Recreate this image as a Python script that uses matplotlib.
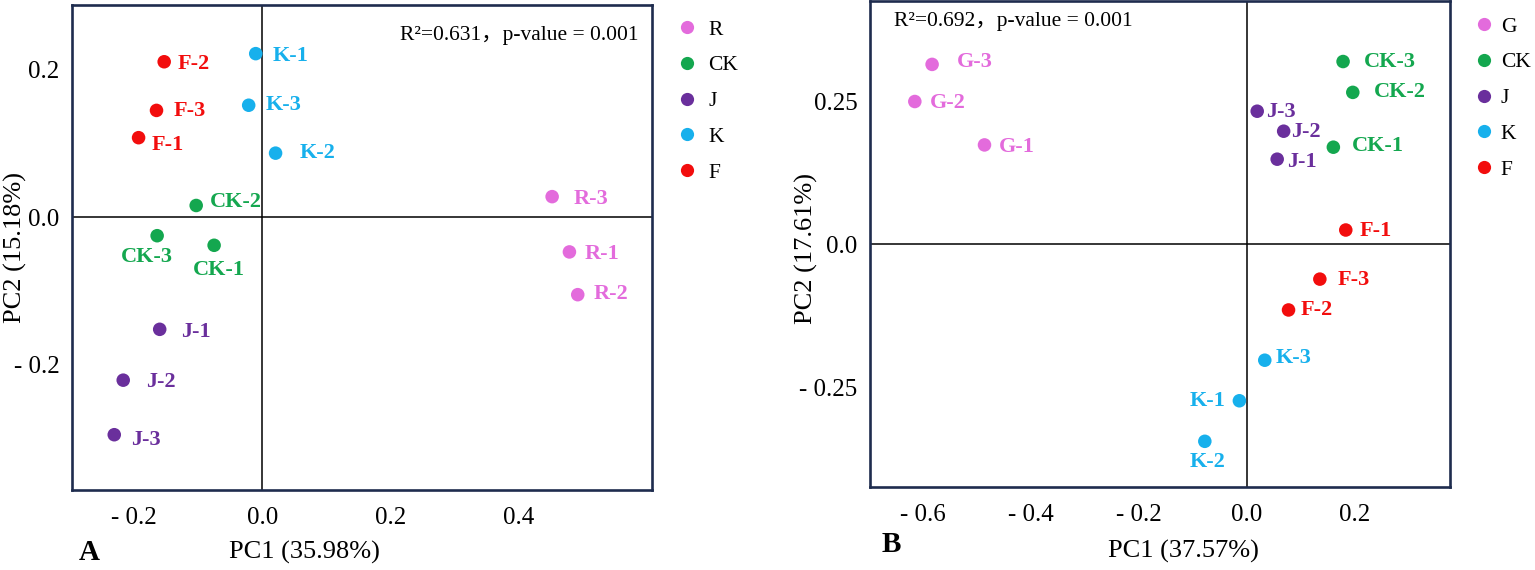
import matplotlib
matplotlib.use("Agg")
import matplotlib.pyplot as plt
from matplotlib.lines import Line2D

plt.rcParams['font.family'] = ['Liberation Serif', 'DejaVu Serif']

# ---------------- data ----------------
A_groups = ['R', 'CK', 'J', 'K', 'F']
A_samples = ['R-1', 'R-2', 'R-3', 'CK-1', 'CK-2', 'CK-3', 'J-1', 'J-2', 'J-3',
             'K-1', 'K-2', 'K-3', 'F-1', 'F-2', 'F-3']
A_pc1 = [0.480, 0.493, 0.453, -0.075, -0.103, -0.164, -0.160, -0.217, -0.231,
         -0.010, 0.021, -0.021, -0.193, -0.153, -0.165]
A_pc2 = [-0.047, -0.105, 0.028, -0.038, 0.016, -0.025, -0.152, -0.221, -0.295,
         0.222, 0.087, 0.152, 0.108, 0.211, 0.145]
A_xticks = [-0.2, 0.0, 0.2, 0.4]
A_xticklabels = ['- 0.2', '0.0', '0.2', '0.4']
A_yticks = [-0.2, 0.0, 0.2]
A_yticklabels = ['- 0.2', '0.0', '0.2']
A_xlabel = 'PC1 (35.98%)'
A_ylabel = 'PC2 (15.18%)'
A_stat = 'R²=0.631，p-value = 0.001'

B_groups = ['G', 'CK', 'J', 'K', 'F']
B_samples = ['G-1', 'G-2', 'G-3', 'CK-1', 'CK-2', 'CK-3', 'J-1', 'J-2', 'J-3',
             'K-1', 'K-2', 'K-3', 'F-1', 'F-2', 'F-3']
B_pc1 = [-0.486, -0.615, -0.583, 0.160, 0.196, 0.178, 0.056, 0.068, 0.019,
         -0.014, -0.078, 0.033, 0.183, 0.077, 0.135]
B_pc2 = [0.174, 0.250, 0.315, 0.170, 0.266, 0.320, 0.149, 0.198, 0.233,
         -0.274, -0.345, -0.203, 0.025, -0.115, -0.061]
B_xticks = [-0.6, -0.4, -0.2, 0.0, 0.2]
B_xticklabels = ['- 0.6', '- 0.4', '- 0.2', '0.0', '0.2']
B_yticks = [-0.25, 0.0, 0.25]
B_yticklabels = ['- 0.25', '0.0', '0.25']
B_xlabel = 'PC1 (37.57%)'
B_ylabel = 'PC2 (17.61%)'
B_stat = 'R²=0.692，p-value = 0.001'

# ---------------- styles ----------------
COLORS = {'R': '#E36BDC', 'G': '#E36BDC', 'CK': '#14A74F', 'J': '#6A2F9C',
          'K': '#17B0EC', 'F': '#F20D0D'}
BORDER = '#1E2C4E'

# label placement: (dx px, dy px (down positive), ha)
A_label_pos = {
    'K-1': (17, 2, 'left'), 'F-2': (13, 2, 'left'), 'F-3': (17, 1, 'left'),
    'K-3': (17, 0, 'left'), 'F-1': (13, 7, 'left'), 'K-2': (24, 0, 'left'),
    'CK-2': (14, -3, 'left'), 'R-3': (21, 2, 'left'), 'CK-3': (-10, 21, 'center'),
    'CK-1': (5, 25, 'center'), 'R-1': (15, 2, 'left'), 'R-2': (16, -1, 'left'),
    'J-1': (21, 3, 'left'), 'J-2': (23, 2, 'left'), 'J-3': (17, 5, 'left'),
}
B_label_pos = {
    'G-3': (25, -2, 'left'), 'G-2': (15, 1, 'left'), 'G-1': (14, 2, 'left'),
    'CK-3': (21, 0, 'left'), 'CK-2': (21, 0, 'left'), 'CK-1': (19, -1, 'left'),
    'J-3': (9, 1, 'left'), 'J-2': (7, 1, 'left'), 'J-1': (10, 3, 'left'),
    'F-1': (14, 1, 'left'), 'F-3': (18, 1, 'left'), 'F-2': (12, 0, 'left'),
    'K-3': (11, -2, 'left'), 'K-1': (-14, 0, 'right'), 'K-2': (3, 21, 'center'),
}

fig = plt.figure(figsize=(15.35, 5.7), dpi=100)


def panel(rect, groups, samples, pc1, pc2, xlim, ylim, xticks, xtl, yticks, ytl,
          xlabel, ylabel, xlab_pos, ylab_pos, stat, stat_pos, stat_ha,
          label_pos, leg_anchor, leg_pad, letter, letter_pos):
    ax = fig.add_axes(rect)
    ax.axhline(0, color='black', lw=1.1, zorder=1)
    ax.axvline(0, color='black', lw=1.1, zorder=1)
    for s, x, y in zip(samples, pc1, pc2):
        g = s.rsplit('-', 1)[0]
        c = COLORS[g]
        ax.scatter([x], [y], s=95, color=c, edgecolors='none', zorder=3)
        dx, dy, ha = label_pos[s]
        ax.annotate(s, (x, y), xytext=(dx, -dy), textcoords='offset pixels',
                    ha=ha, va='center', color=c, fontsize=16, fontweight='bold')
    ax.set_xlim(*xlim)
    ax.set_ylim(*ylim)
    ax.set_xticks(xticks)
    ax.set_xticklabels(xtl)
    ax.set_yticks(yticks)
    ax.set_yticklabels(ytl)
    ax.tick_params(length=0, labelsize=18, pad=9)
    ax.tick_params(axis='x', pad=12)
    for sp in ax.spines.values():
        sp.set_color(BORDER)
        sp.set_linewidth(1.9)
    ax.set_xlabel(xlabel, fontsize=19)
    ax.xaxis.set_label_coords(*xlab_pos)
    ax.xaxis.label.set_va('center')
    ax.set_ylabel(ylabel, fontsize=19)
    ax.yaxis.set_label_coords(*ylab_pos)
    ax.yaxis.label.set_va('center')
    ax.text(stat_pos[0], stat_pos[1], stat, transform=ax.transAxes, ha=stat_ha,
            va='center', fontsize=15.5,
            family=['Liberation Serif', 'Noto Sans CJK SC'])
    handles = [Line2D([], [], marker='o', ls='none', color=COLORS[g],
                      markersize=9.5, markeredgewidth=0) for g in groups]
    ax.legend(handles, groups, loc='upper left', bbox_to_anchor=leg_anchor,
              frameon=False, fontsize=15.5, handlelength=0.8,
              handletextpad=leg_pad, labelspacing=0.73, borderpad=0,
              borderaxespad=0)
    ax.text(letter_pos[0], letter_pos[1], letter, transform=ax.transAxes,
            ha='center', va='center', fontsize=21, fontweight='bold')
    return ax


# Panel A: axes px box x 72..652, y 5..490
panel([72 / 1535, 1 - 490 / 570, 580 / 1535, 485 / 570],
      A_groups, A_samples, A_pc1, A_pc2,
      xlim=(-0.297, 0.609), ylim=(-0.370, 0.288),
      xticks=A_xticks, xtl=A_xticklabels, yticks=A_yticks, ytl=A_yticklabels,
      xlabel=A_xlabel, ylabel=A_ylabel,
      xlab_pos=(0.40, -0.128), ylab_pos=(-0.098, 0.50),
      stat=A_stat, stat_pos=(0.976, 0.938), stat_ha='right',
      label_pos=A_label_pos, leg_anchor=(1.045, 0.970), leg_pad=0.6,
      letter='A', letter_pos=(0.030, -0.128))

# Panel B: axes px box x 870..1450, y 1..487
panel([870 / 1535, 1 - 487 / 570, 580 / 1535, 486 / 570],
      B_groups, B_samples, B_pc1, B_pc2,
      xlim=(-0.698, 0.376), ylim=(-0.425, 0.426),
      xticks=B_xticks, xtl=B_xticklabels, yticks=B_yticks, ytl=B_yticklabels,
      xlabel=B_xlabel, ylabel=B_ylabel,
      xlab_pos=(0.541, -0.132), ylab_pos=(-0.110, 0.49),
      stat=B_stat, stat_pos=(0.041, 0.957), stat_ha='left',
      label_pos=B_label_pos, leg_anchor=(1.043, 0.968), leg_pad=0.4,
      letter='B', letter_pos=(0.036, -0.119))

fig.savefig('out.png', dpi=100)
